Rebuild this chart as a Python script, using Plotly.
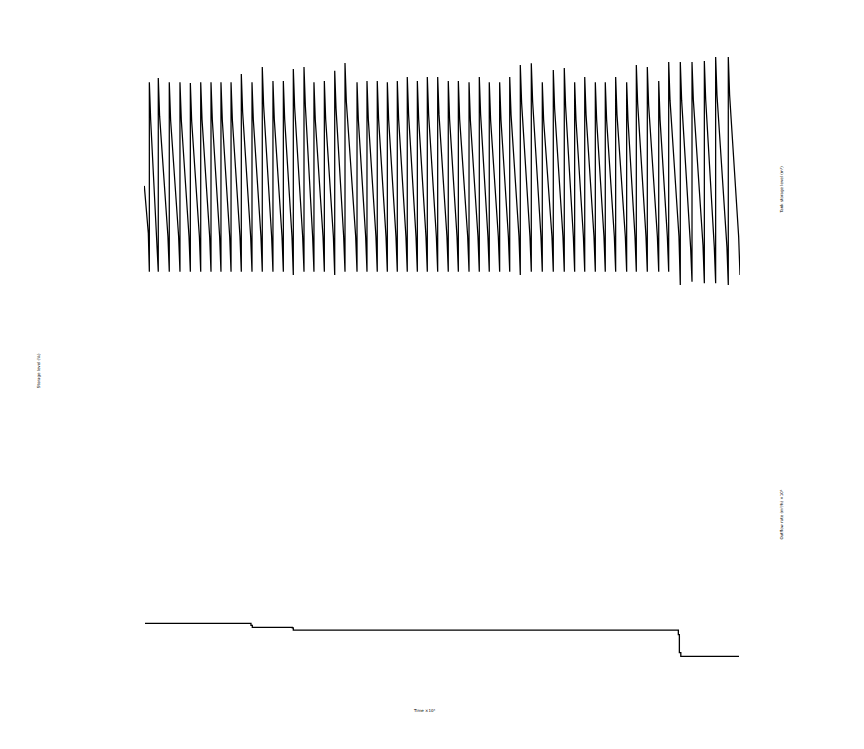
import plotly.graph_objects as go

# ---------------- data ----------------
# time of each refill (rise) in days
rise_t = [0.52, 1.39, 2.46, 3.50, 4.51, 5.52, 6.52, 7.49, 8.47, 9.47,
          10.51, 11.51, 12.55, 13.56, 14.53, 15.57, 16.54, 17.55, 18.56, 19.56,
          20.73, 21.70, 22.70, 23.68, 24.65, 25.62, 26.60, 27.57, 28.58, 29.61,
          30.59, 31.63, 32.63, 33.60, 34.61, 35.59, 36.62, 37.69, 38.76, 39.83,
          40.90, 41.91, 42.89, 43.92, 44.89, 45.90, 46.97, 47.91, 48.98, 50.09,
          51.06, 52.19, 53.33, 54.53, 55.63, 56.86]
# level reached right after each refill
peak = [93.39, 94.06, 93.39, 93.39, 93.28, 93.39, 93.39, 93.39, 93.39, 94.69,
        93.39, 95.78, 93.59, 93.59, 95.47, 95.78, 93.39, 93.59, 95.20, 96.41,
        93.39, 93.59, 93.59, 93.39, 93.59, 94.22, 93.59, 94.22, 94.22, 93.59,
        93.59, 93.39, 94.22, 93.39, 93.39, 94.22, 96.09, 96.36, 93.39, 95.31,
        95.63, 93.39, 94.22, 93.39, 93.39, 94.22, 93.39, 96.09, 95.78, 93.59,
        96.56, 96.56, 96.56, 96.72, 97.34, 97.34]
# level just before each refill
trough = [63.80, 63.80, 63.80, 63.80, 63.80, 63.80, 63.80, 63.80, 63.80, 63.80,
          63.80, 63.80, 63.80, 63.80, 63.28, 63.80, 63.80, 63.80, 63.28, 63.80,
          63.80, 63.80, 63.80, 63.80, 63.80, 63.80, 63.80, 63.80, 63.80, 63.80,
          63.80, 63.80, 63.80, 63.80, 63.80, 63.80, 63.28, 63.80, 63.80, 63.80,
          63.80, 63.80, 63.80, 63.80, 63.80, 63.80, 63.80, 63.80, 63.80, 63.80,
          63.80, 61.72, 62.23, 61.98, 61.98, 61.72]
# level after the quick initial draw following each refill
upper = [87.5, 88.1, 87.5, 87.5, 87.3, 87.5, 87.5, 87.5, 87.5, 88.7,
         87.5, 89.8, 87.6, 87.6, 89.5, 89.8, 87.5, 87.6, 89.2, 90.4,
         87.5, 87.6, 87.6, 87.5, 87.6, 88.3, 87.6, 88.3, 88.3, 87.6,
         87.6, 87.5, 88.3, 87.5, 87.5, 88.3, 90.1, 90.4, 87.5, 89.3,
         89.6, 87.5, 88.3, 87.5, 87.5, 88.3, 87.5, 90.1, 89.8, 87.6,
         90.6, 90.6, 90.6, 90.7, 91.4, 91.4]
# level at the end of the slow draw, before the final quick draw
lower = [69.3, 69.3, 69.3, 69.3, 69.3, 69.3, 69.3, 69.3, 69.3, 69.3,
         69.3, 69.3, 69.3, 69.3, 69.3, 69.3, 69.3, 69.3, 69.3, 69.3,
         69.3, 69.3, 69.3, 69.3, 69.3, 69.3, 69.3, 69.3, 69.3, 69.3,
         69.3, 69.3, 69.3, 69.3, 69.3, 69.3, 69.3, 69.3, 69.3, 69.3,
         69.3, 69.3, 69.3, 69.3, 69.3, 69.3, 69.3, 69.3, 69.3, 69.3,
         69.3, 67.4, 67.9, 67.6, 67.6, 69.3]
start_t, start_v = 0.03, 77.2
end_t, end_v = 58.0, 63.28

# step series (second quantity)
step_t = [0.10, 10.41, 10.54, 14.43, 14.53, 52.00, 52.10, 52.24, 57.90]
step_v = [8.86, 8.55, 8.23, 8.13, 7.80, 7.08, 4.29, 3.70, 3.70]

x_range = [0, 58]
y_range = [0, 100]

# ---------------- build sawtooth path ----------------
xs, ys = [start_t], [start_v]
xs.append(rise_t[0] - 0.1); ys.append(69.8)
for i, t in enumerate(rise_t):
    nxt = rise_t[i + 1] if i + 1 < len(rise_t) else end_t
    xs += [t, t, t + 0.13, nxt - 0.13]
    ys += [trough[i], peak[i], upper[i], lower[i]]
xs.append(end_t); ys.append(end_v)

fig = go.Figure()
fig.add_trace(go.Scatter(x=xs, y=ys, mode="lines",
                         line=dict(color="black", width=1.25), showlegend=False))
fig.add_trace(go.Scatter(x=step_t, y=step_v, mode="lines", line_shape="hv",
                         line=dict(color="black", width=1.3), showlegend=False))

ax = dict(showgrid=False, zeroline=False, showline=False, showticklabels=False,
          ticks="")
ann = dict(xref="paper", yref="paper", showarrow=False, xanchor="center",
           yanchor="middle", font=dict(size=4))
fig.update_layout(
    width=864, height=749, autosize=False,
    paper_bgcolor="white", plot_bgcolor="white",
    margin=dict(l=144, r=124, t=40, b=69),
    xaxis=dict(range=x_range, **ax),
    yaxis=dict(range=y_range, **ax),
    font=dict(family="DejaVu Sans", color="black", size=4),
    annotations=[
        dict(text="Time ×10³", x=0.471, y=-0.047, **ann),
        dict(text="Storage level (%)", x=-0.178, y=0.484, textangle=-90, **ann),
        dict(text="Tank storage level (m³)", x=1.070, y=0.766, textangle=-90, **ann),
        dict(text="Outflow rate (m³/h) ×10³", x=1.070, y=0.258, textangle=-90, **ann),
    ],
)
fig.write_html("out.html")
